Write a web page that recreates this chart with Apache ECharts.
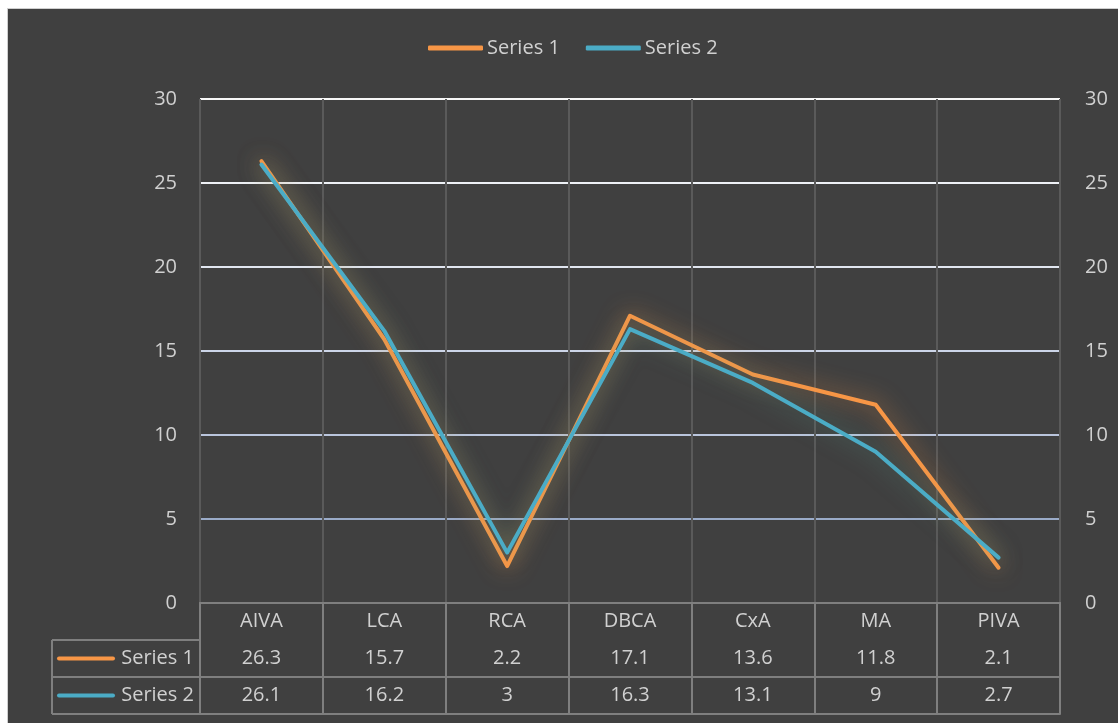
<!DOCTYPE html>
<html><head><meta charset="utf-8">
<script src="https://cdn.jsdelivr.net/npm/echarts@6/dist/echarts.min.js"></script>
<style>
html,body{margin:0;padding:0;background:#fff;width:1118px;height:723px;overflow:hidden;}
#c{position:absolute;left:7px;top:8px;width:1110px;height:714px;border-left:1px solid #cfcfcf;border-top:1px solid #cfcfcf;background:#404040;}
</style></head>
<body><div id="c"></div>
<script>
var categories = ['AIVA','LCA','RCA','DBCA','CxA','MA','PIVA'];
var series1 = [26.3,15.7,2.2,17.1,13.6,11.8,2.1];
var series2 = [26.1,16.2,3,16.3,13.1,9,2.7];
var seriesNames = ['Series 1','Series 2'];
var yTicks = {min:0,max:30,interval:5};

var FONT = '"Open Sans", Lato, sans-serif';
var FS = 20;
var TXT = '#d0d0d0';
var BORDER = '#7f7f7f';
var C1 = '#f79646', C2 = '#4bacc6';
var ROW = 37;
var G = {left:192, right:58, top:90, bottom:120};

var chart = echarts.init(document.getElementById('c'), null, {renderer:'canvas'});

function tableAxis(idx, vals, showLabel){
  return {
    type:'category', data:categories, position:'bottom', gridIndex:0,
    offset: ROW*idx, boundaryGap:true,
    axisLine:{show:true, lineStyle:{color:BORDER, width:2}},
    axisTick:{show:false},
    splitLine:{show:false},
    axisLabel:{show:showLabel, color:TXT, fontFamily:FONT, fontSize:FS, margin:8,
      formatter:function(v, i){ return vals ? String(vals[i]) : v; }}
  };
}

var option = {
  backgroundColor:'#404040',
  animation:false,
  textStyle:{fontFamily:FONT},
  legend:{
    top:24, left:415, itemGap:26, itemWidth:55, itemHeight:5,
    icon:'roundRect',
    textStyle:{color:TXT, fontSize:FS, fontFamily:FONT, padding:[0,0,0,-1]},
    data:seriesNames
  },
  grid:{left:G.left, right:G.right, top:G.top, bottom:G.bottom, containLabel:false},
  xAxis:[
    {
      type:'category', data:categories, position:'bottom', boundaryGap:true,
      axisLine:{show:true, lineStyle:{color:BORDER, width:2}},
      axisTick:{show:true, length:ROW*3, lineStyle:{color:BORDER, width:2}},
      splitLine:{show:true, lineStyle:{color:'#5a5a5a', width:2}},
      axisLabel:{color:TXT, fontFamily:FONT, fontSize:FS, margin:8}
    },
    tableAxis(1, series1, true),
    tableAxis(2, series2, true),
    tableAxis(3, null, false)
  ],
  yAxis:[
    {
      type:'value', min:yTicks.min, max:yTicks.max, interval:yTicks.interval, position:'left',
      axisLine:{show:false}, axisTick:{show:false},
      axisLabel:{color:TXT, fontFamily:FONT, fontSize:FS, margin:23},
      splitLine:{show:true, lineStyle:{width:2,
        color:['rgba(0,0,0,0)','#9aabc8','#bac5dc','#ccd5e8','#e1e6f0','#eef1f6','#f7f7f7']}}
    },
    {
      type:'value', min:yTicks.min, max:yTicks.max, interval:yTicks.interval, position:'right',
      axisLine:{show:false}, axisTick:{show:false},
      axisLabel:{color:TXT, fontFamily:FONT, fontSize:FS, margin:25},
      splitLine:{show:false}
    }
  ],
  series:[
    {name:seriesNames[0], type:'line', data:series1, symbol:'none', color:C1,
     lineStyle:{width:4, color:C1, cap:'round', join:'round', shadowBlur:22, shadowColor:'rgba(247,150,70,0.75)'}},
    {name:seriesNames[1], type:'line', data:series2, symbol:'none', color:C2,
     lineStyle:{width:4, color:C2, cap:'round', join:'round', shadowBlur:22, shadowColor:'rgba(90,170,150,0.6)'}}
  ]
};
chart.setOption(option);

// table left column (legend keys) positioned from the axis scale
var y0 = chart.convertToPixel({yAxisIndex:0}, 0);
var xL = G.left;
var xTabLeft = xL - 148;
var g = [];
[1,2,3].forEach(function(r){
  g.push({type:'line', shape:{x1:xTabLeft, y1:y0+ROW*r, x2:xL, y2:y0+ROW*r}, style:{stroke:BORDER, lineWidth:2}});
});
g.push({type:'line', shape:{x1:xTabLeft, y1:y0+ROW, x2:xTabLeft, y2:y0+ROW*3}, style:{stroke:BORDER, lineWidth:2}});
[C1, C2].forEach(function(c, i){
  var yc = y0 + ROW*(i+1) + ROW/2;
  g.push({type:'line', shape:{x1:xTabLeft+7, y1:yc, x2:xTabLeft+61, y2:yc}, style:{stroke:c, lineWidth:4, lineCap:'round'}});
  g.push({type:'text', x:xL-6, y:yc, style:{text:seriesNames[i], fill:TXT, font:FS+'px '+FONT, align:'right', verticalAlign:'middle'}});
});
chart.setOption({graphic:g});
</script>
</body></html>
